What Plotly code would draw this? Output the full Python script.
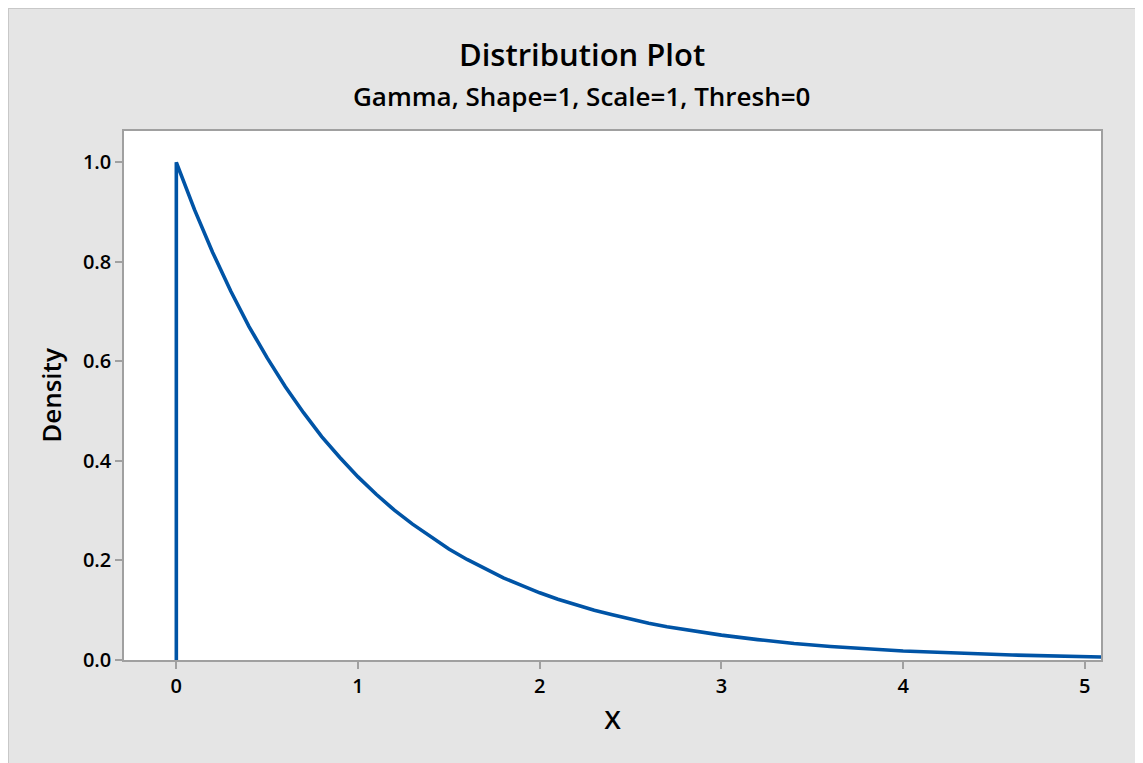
import plotly.graph_objects as go

# Data (Gamma shape=1, scale=1 density)
x_vals = [0.0, 0.0, 0.1, 0.2, 0.3, 0.4, 0.5, 0.6, 0.7, 0.8, 0.9, 1.0, 1.1, 1.2, 1.3,
          1.4, 1.5, 1.6, 1.7, 1.8, 1.9, 2.0, 2.1, 2.2, 2.3, 2.4, 2.5, 2.6, 2.7,
          2.8, 2.9, 3.0, 3.2, 3.4, 3.6, 3.8, 4.0, 4.3, 4.6, 5.09]
density = [0.0, 1.000, 0.905, 0.819, 0.741, 0.670, 0.607, 0.549, 0.497, 0.449, 0.407,
           0.368, 0.333, 0.301, 0.273, 0.247, 0.223, 0.202, 0.183, 0.165, 0.150,
           0.135, 0.122, 0.111, 0.100, 0.091, 0.082, 0.074, 0.067, 0.061, 0.055,
           0.050, 0.041, 0.033, 0.027, 0.022, 0.018, 0.014, 0.010, 0.006]

x_ticks = [0, 1, 2, 3, 4, 5]
y_ticks = [0.0, 0.2, 0.4, 0.6, 0.8, 1.0]
y_ticklabels = ["0.0", "0.2", "0.4", "0.6", "0.8", "1.0"]

title_text = "Distribution Plot"
subtitle_text = "Gamma, Shape=1, Scale=1, Thresh=0"

FONT = "Open Sans"
BG = "#e5e5e5"
AXIS = "#a0a0a0"

fig = go.Figure()
fig.add_trace(go.Scatter(
    x=x_vals, y=density, mode="lines",
    line=dict(color="#0054a6", width=3.6),
    showlegend=False, hoverinfo="x+y",
))

# the page shows the figure offset by the body's default 8px margin
OFF = 8
W, H = 1143, 763
L, R, T, B = 124 - OFF, 42 + OFF, 131 - OFF, 103 + OFF
pw, ph = W - L - R, H - T - B


def px_x(p):  # page pixel -> paper coordinate
    return (p - OFF - L) / pw


def px_y(p):
    return (H - B - (p - OFF)) / ph


fig.update_layout(
    width=W, height=H,
    margin=dict(l=L, r=R, t=T, b=B, pad=0),
    paper_bgcolor=BG, plot_bgcolor="white",
    font=dict(family=FONT, color="black"),
    xaxis=dict(
        range=[-0.288, 5.089], tickvals=x_ticks, ticks="outside", ticklen=7,
        tickcolor=AXIS, tickwidth=1.5, showline=True, linecolor=AXIS, linewidth=1.5,
        mirror=True, showgrid=False, zeroline=False,
        tickfont=dict(family=FONT, size=20, weight=600),
        title=dict(text="X", font=dict(family=FONT, size=26, weight=600), standoff=13),
    ),
    yaxis=dict(
        range=[0, 1.063], tickvals=y_ticks, ticktext=y_ticklabels, ticks="outside",
        ticklen=7, tickcolor=AXIS, tickwidth=1.5, showline=True, linecolor=AXIS,
        linewidth=1.5, mirror=True, showgrid=False, zeroline=False,
        tickfont=dict(family=FONT, size=20, weight=600),
        title=dict(text="Density", font=dict(family=FONT, size=26, weight=600), standoff=14),
    ),
    shapes=[
        dict(type="line", xref="paper", yref="paper", x0=px_x(OFF), x1=px_x(OFF),
             y0=px_y(OFF), y1=px_y(H + 20), line=dict(color="#c8c8c8", width=2), layer="below"),
        dict(type="line", xref="paper", yref="paper", x0=px_x(OFF), x1=px_x(W + 20),
             y0=px_y(OFF), y1=px_y(OFF), line=dict(color="#c8c8c8", width=2), layer="below"),
    ],
    annotations=[
        dict(text=title_text, xref="paper", yref="paper", x=px_x(582), y=px_y(54),
             xanchor="center", yanchor="middle", showarrow=False,
             font=dict(family=FONT, size=31, weight=600, color="black")),
        dict(text=subtitle_text, xref="paper", yref="paper", x=px_x(581), y=px_y(96),
             xanchor="center", yanchor="middle", showarrow=False,
             font=dict(family=FONT, size=26, weight=600, color="black")),
    ],
)

fig.write_html("out.html")
